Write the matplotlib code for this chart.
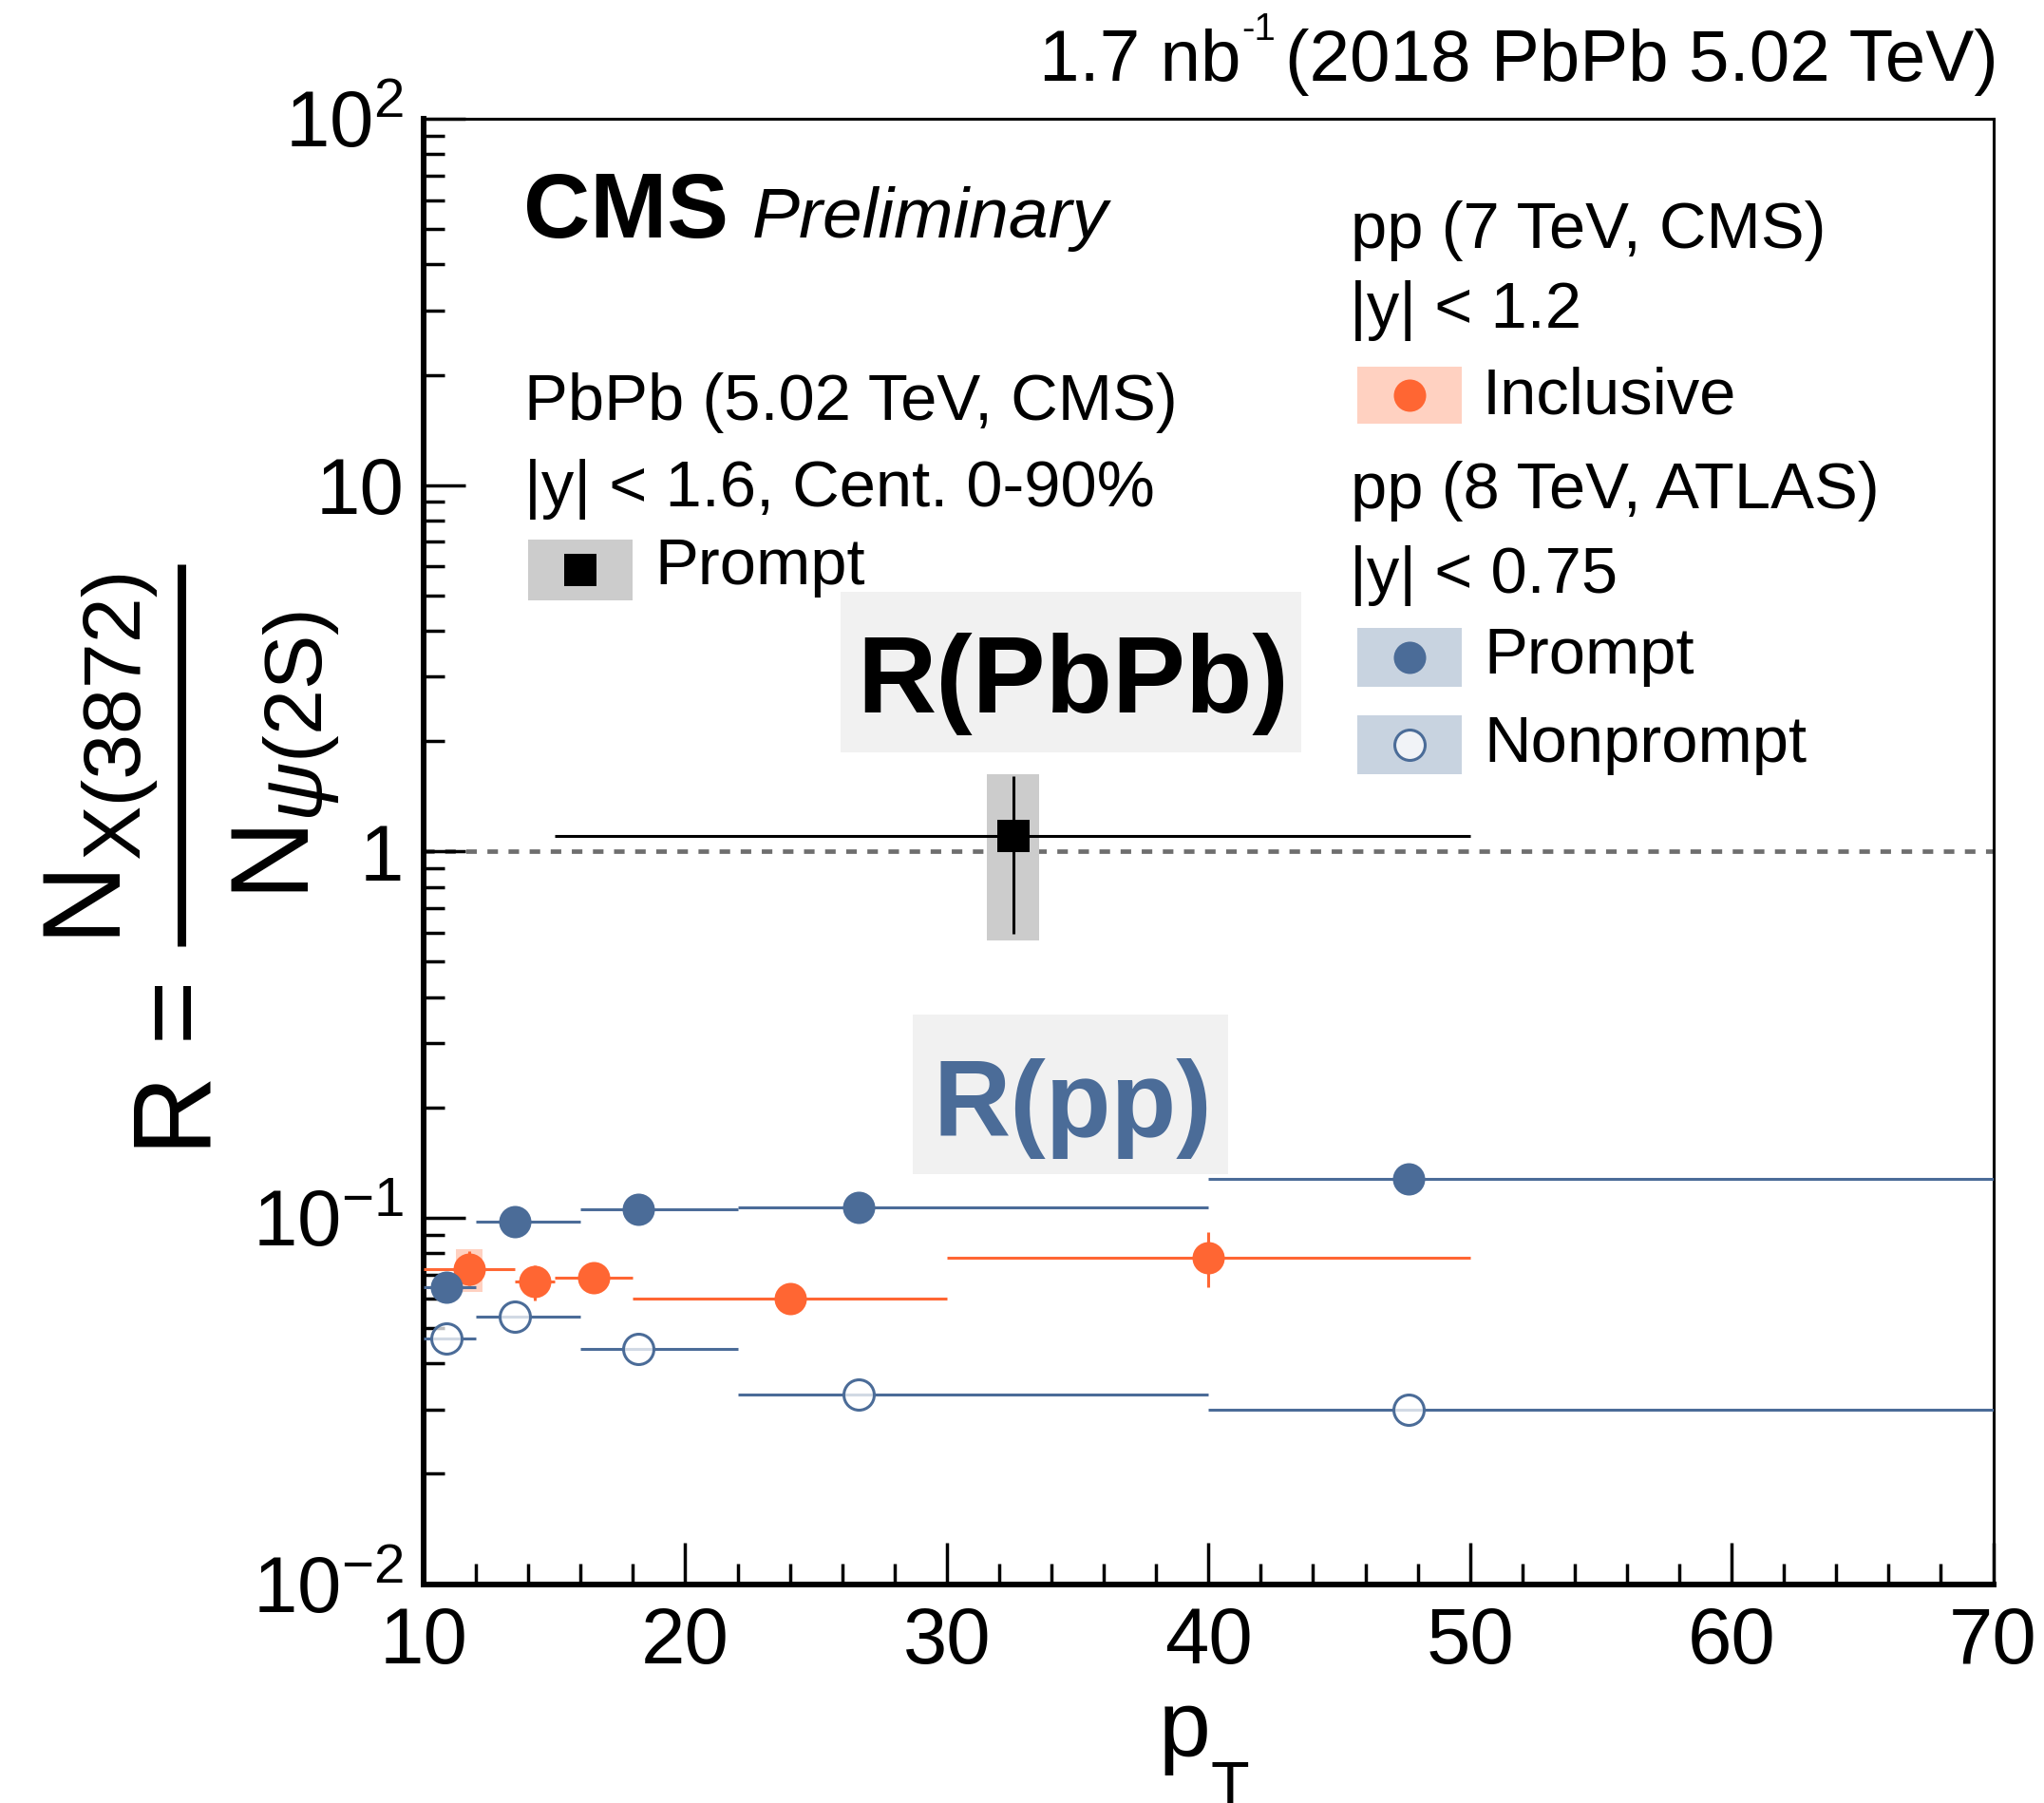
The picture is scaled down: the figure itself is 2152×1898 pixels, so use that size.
import matplotlib
matplotlib.use("Agg")
import matplotlib.pyplot as plt
from matplotlib.patches import Rectangle
from matplotlib.lines import Line2D
from matplotlib.ticker import (FixedLocator, FixedFormatter, MultipleLocator,
                               LogLocator, NullFormatter)
import numpy as np

W, H = 2152, 1898
plt.rcParams["font.family"] = ["Liberation Sans", "DejaVu Sans"]
plt.rcParams["mathtext.fontset"] = "custom"
plt.rcParams["mathtext.rm"] = "Liberation Sans"
plt.rcParams["mathtext.it"] = "Liberation Sans:italic"
plt.rcParams["mathtext.bf"] = "Liberation Sans:bold"
plt.rcParams["lines.scale_dashes"] = False

# ---------------- data ----------------
# PbPb 5.02 TeV (CMS), prompt X(3872)/psi(2S)
pbpb_pt = [32.53]
pbpb_lo = [15.0]
pbpb_hi = [50.0]
pbpb_R = [1.102]
pbpb_stat_lo = [0.595]
pbpb_stat_hi = [1.603]
pbpb_syst_lo = [0.571]
pbpb_syst_hi = [1.625]

# pp 7 TeV (CMS), inclusive, |y| < 1.2
cms_pt = [11.75, 14.25, 16.5, 24.0, 40.0]
cms_lo = [10.0, 13.5, 15.0, 18.0, 30.0]
cms_hi = [13.5, 15.0, 18.0, 30.0, 50.0]
cms_R = [0.0726, 0.0670, 0.0685, 0.0600, 0.0778]
cms_stat_lo = [0.0655, 0.0596, 0.0660, 0.0580, 0.0645]
cms_stat_hi = [0.0810, 0.0742, 0.0712, 0.0622, 0.0914]
cms_syst_lo = [0.0629, 0.0640, 0.0660, 0.0580, 0.0740]
cms_syst_hi = [0.0820, 0.0700, 0.0710, 0.0620, 0.0820]

# pp 8 TeV (ATLAS), |y| < 0.75
atlas_pt = [10.88, 13.49, 18.2, 26.63, 47.64]
atlas_lo = [10.0, 12.0, 16.0, 22.0, 40.0]
atlas_hi = [12.0, 16.0, 22.0, 40.0, 70.0]
atlas_prompt = [0.0648, 0.0976, 0.1057, 0.1068, 0.1278]
atlas_nonprompt = [0.0468, 0.0538, 0.0438, 0.0329, 0.0299]

y_ticks = [0.01, 0.1, 1, 10, 100]
y_ticklabels = [r"$10^{-2}$", r"$10^{-1}$", "1", "10", r"$10^{2}$"]
x_ticks = [10, 20, 30, 40, 50, 60, 70]

# ---------------- style ----------------
BLUE = "#4b6c98"
BLUE_BOX = "#c8d3e0"
ORANGE = "#ff6633"
ORANGE_BOX = "#ffd1c1"
GREY_BOX = "#cccccc"
LABEL_BOX = "#f1f1f1"
MS = 24.5
ELW = 2.2
LEG_FS = 49.5

fig = plt.figure(figsize=(W / 100, H / 100), dpi=100)
L, R_, T, B = 446, 2098.5, 125, 1667.5
ax = fig.add_axes([L / W, 1 - B / H, (R_ - L) / W, (B - T) / H])
ax.set_xlim(10, 70)
ax.set_yscale("log")
ax.set_ylim(0.01, 100)

# reference line at R = 1
ax.axhline(1, color="#6e6e6e", lw=3.4, ls=(0, (8, 8)), zorder=1)

# PbPb: systematic box, stat error bars, marker
for x, y0, y1 in zip(pbpb_pt, pbpb_syst_lo, pbpb_syst_hi):
    ax.add_patch(Rectangle((x - 1.0, y0), 2.0, y1 - y0, color=GREY_BOX,
                           lw=0, zorder=2))
ax.hlines(pbpb_R, pbpb_lo, pbpb_hi, color="black", lw=ELW, zorder=3)
ax.vlines(pbpb_pt, pbpb_stat_lo, pbpb_stat_hi, color="black", lw=ELW, zorder=3)
ax.plot(pbpb_pt, pbpb_R, "s", color="black", ms=25, mew=0, zorder=4)

# CMS 7 TeV inclusive
for x, y0, y1 in zip(cms_pt, cms_syst_lo, cms_syst_hi):
    ax.add_patch(Rectangle((x - 0.5, y0), 1.0, y1 - y0, color=ORANGE_BOX,
                           lw=0, zorder=2))
ax.hlines(cms_R, cms_lo, cms_hi, color=ORANGE, lw=ELW, zorder=3)
ax.vlines(cms_pt, cms_stat_lo, cms_stat_hi, color=ORANGE, lw=ELW, zorder=3)
ax.plot(cms_pt, cms_R, "o", color=ORANGE, ms=MS, mew=0, zorder=4)

# ATLAS 8 TeV prompt and nonprompt
ax.hlines(atlas_prompt, atlas_lo, atlas_hi, color=BLUE, lw=ELW, zorder=5)
ax.plot(atlas_pt, atlas_prompt, "o", color=BLUE, ms=MS, mew=0, zorder=6)
ax.hlines(atlas_nonprompt, atlas_lo, atlas_hi, color=BLUE, lw=ELW, zorder=5)
ax.plot(atlas_pt, atlas_nonprompt, "o", mfc=(1, 1, 1, 0.75), mec=BLUE,
        ms=MS - 1.5, mew=2.2, zorder=6)

# axes frame and ticks
for s in ("left", "bottom"):
    ax.spines[s].set_linewidth(4.3)
for s in ("top", "right"):
    ax.spines[s].set_linewidth(2.2)
ax.xaxis.set_major_locator(FixedLocator(x_ticks))
ax.xaxis.set_minor_locator(MultipleLocator(2))
ax.yaxis.set_major_locator(FixedLocator(y_ticks))
ax.yaxis.set_major_formatter(FixedFormatter(y_ticklabels))
ax.yaxis.set_minor_locator(LogLocator(base=10, subs=np.arange(2, 10)))
ax.yaxis.set_minor_formatter(NullFormatter())
ax.tick_params(which="both", direction="in", top=False, right=False,
               width=2.5, labelsize=60)
ax.tick_params(which="major", length=32)
ax.tick_params(which="minor", length=16)
ax.tick_params(axis="x", pad=16)
ax.tick_params(axis="y", pad=15)

# ---------------- overlay in pixel coordinates ----------------
ov = fig.add_axes([0, 0, 1, 1], zorder=10)
ov.set_xlim(0, W)
ov.set_ylim(H, 0)
ov.axis("off")

# y-axis title:  R = N_X(3872) / N_psi(2S)
rot = dict(rotation=90, rotation_mode="anchor", ha="center", va="baseline")
ov.text(222, 1124, "R =", fontsize=84, **rot)
ov.text(117, 943, "N", fontsize=84, **rot)
ov.text(146, 751, "X(3872)", fontsize=62, **rot)
ov.text(315, 896, "N", fontsize=84, **rot)
ov.text(339, 754, r"$\psi$(2S)", fontsize=62, **rot)
ov.add_line(Line2D([190.5, 190.5], [594, 996], color="black", lw=6.5,
                   solid_capstyle="butt"))

# x-axis title p_T
ov.text(1220, 1849, "p", fontsize=71, ha="left", va="baseline")
ov.text(1275, 1901, "T", fontsize=48, ha="left", va="baseline")

# luminosity label, right aligned
rend = fig.canvas.get_renderer()
t3 = ov.text(2104, 85, "(2018 PbPb 5.02 TeV)", fontsize=55, ha="right",
             va="baseline")
x0 = t3.get_window_extent(rend).x0
t2 = ov.text(x0 - 10, 42, "-1", fontsize=29, ha="right", va="baseline")
x1 = t2.get_window_extent(rend).x0
ov.text(x1 - 1, 85, "1.7 nb", fontsize=55, ha="right", va="baseline")

# CMS Preliminary
ov.text(551, 250, "CMS", fontsize=70, fontweight="bold", ha="left",
        va="baseline")
ov.text(792, 250, "Preliminary", fontsize=54, fontstyle="italic", ha="left",
        va="baseline")

# PbPb legend
ov.text(552, 442, "PbPb (5.02 TeV, CMS)", fontsize=LEG_FS, va="baseline")
ov.text(552, 533, "|y| < 1.6, Cent. 0-90%", fontsize=LEG_FS, va="baseline")
ov.add_patch(Rectangle((555.6, 568), 110.7, 64, color=GREY_BOX, lw=0))
ov.plot([611], [600], "s", color="black", ms=25, mew=0)
ov.text(689, 615, "Prompt", fontsize=LEG_FS, va="baseline")

# pp legend
ov.text(1422, 261, "pp (7 TeV, CMS)", fontsize=LEG_FS, va="baseline")
ov.text(1421, 345, "|y| < 1.2", fontsize=LEG_FS, va="baseline")
ov.add_patch(Rectangle((1429, 386), 110, 60, color=ORANGE_BOX, lw=0))
ov.plot([1484], [416], "o", color=ORANGE, ms=MS, mew=0)
ov.text(1561, 435, "Inclusive", fontsize=LEG_FS, va="baseline")
ov.text(1422, 535, "pp (8 TeV, ATLAS)", fontsize=LEG_FS, va="baseline")
ov.text(1421, 624, "|y| < 0.75", fontsize=LEG_FS, va="baseline")
ov.add_patch(Rectangle((1429, 661), 110, 62, color=BLUE_BOX, lw=0))
ov.plot([1484], [692], "o", color=BLUE, ms=MS, mew=0)
ov.text(1562, 709, "Prompt", fontsize=LEG_FS, va="baseline")
ov.add_patch(Rectangle((1429, 753), 110, 62, color=BLUE_BOX, lw=0))
ov.plot([1484], [784], "o", mfc=(1, 1, 1, 0.75), mec=BLUE, ms=MS - 1.5,
        mew=2.2)
ov.text(1562, 802, "Nonprompt", fontsize=LEG_FS, va="baseline")

# R(PbPb) and R(pp) tags
ov.add_patch(Rectangle((885, 623), 484.6, 168.5, color=LABEL_BOX, lw=0))
ov.text(1129.5, 750, "R(PbPb)", fontsize=83, fontweight="bold", ha="center",
        va="baseline", color="black")
ov.add_patch(Rectangle((961, 1068), 332, 168, color=LABEL_BOX, lw=0))
ov.text(1129.5, 1195.5, "R(pp)", fontsize=81, fontweight="bold",
        ha="center", va="baseline", color=BLUE)

fig.savefig("out.png", dpi=100)
